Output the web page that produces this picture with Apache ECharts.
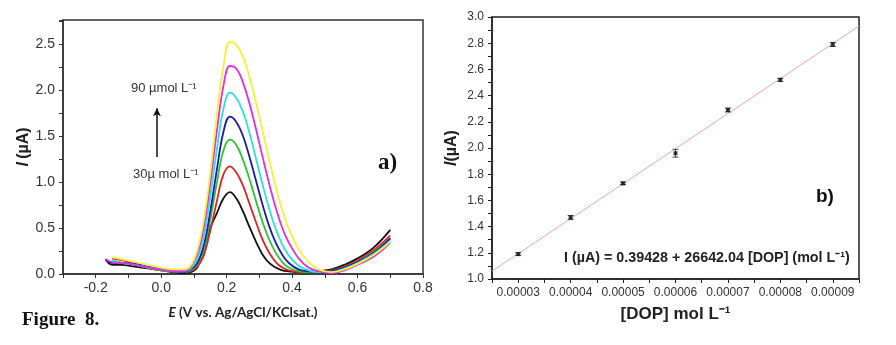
<!DOCTYPE html>
<html>
<head>
<meta charset="utf-8">
<script src="https://cdn.jsdelivr.net/npm/echarts@6/dist/echarts.min.js"></script>
<style>
html, body { margin: 0; padding: 0; background: #fff; }
#chart { width: 896px; height: 345px; }
</style>
</head>
<body>
<div id="chart"></div>
<script>
// a) DPV curves, potential in V, current in uA
const potential = [-0.17, -0.15, -0.12, -0.08, -0.04, 0.00, 0.04, 0.07, 0.09, 0.11, 0.13, 0.15, 0.17, 0.19, 0.21,
    0.23, 0.25, 0.27, 0.29, 0.31, 0.33, 0.35, 0.37, 0.39, 0.42, 0.45, 0.48, 0.52, 0.56, 0.60, 0.65, 0.70];
const curve30 = [0.16, 0.10, 0.10, 0.08, 0.06, 0.04, 0.02, 0.01, 0.02, 0.07, 0.25, 0.50, 0.66, 0.82, 0.89,
    0.82, 0.68, 0.51, 0.35, 0.21, 0.12, 0.07, 0.04, 0.03, 0.02, 0.02, 0.03, 0.05, 0.10, 0.17, 0.29, 0.48];
const curve40 = [null, 0.17, 0.15, 0.11, 0.07, 0.04, 0.03, 0.02, 0.03, 0.08, 0.20, 0.47, 0.79, 1.08, 1.17,
    1.10, 0.96, 0.76, 0.56, 0.37, 0.23, 0.13, 0.07, 0.04, 0.02, 0.02, 0.03, 0.04, 0.08, 0.15, 0.26, 0.42];
const curve50 = [null, 0.15, 0.12, 0.10, 0.07, 0.04, 0.03, 0.02, 0.04, 0.10, 0.26, 0.59, 0.99, 1.34, 1.46,
    1.40, 1.24, 1.03, 0.79, 0.56, 0.375, 0.23, 0.13, 0.07, 0.03, 0.02, 0.02, 0.03, 0.07, 0.13, 0.24, 0.38];
const curve60 = [0.16, 0.12, 0.12, 0.11, 0.08, 0.05, 0.03, 0.02, 0.05, 0.12, 0.31, 0.68, 1.13, 1.54, 1.71,
    1.65, 1.50, 1.27, 1.01, 0.75, 0.52, 0.34, 0.21, 0.12, 0.05, 0.03, 0.02, 0.03, 0.07, 0.13, 0.23, 0.39];
const curve70 = [null, 0.15, 0.12, 0.10, 0.07, 0.05, 0.03, 0.03, 0.06, 0.16, 0.40, 0.84, 1.35, 1.79, 1.97,
    1.91, 1.76, 1.53, 1.25, 0.97, 0.71, 0.49, 0.32, 0.20, 0.09, 0.04, 0.02, 0.02, 0.06, 0.12, 0.22, 0.36];
const curve80 = [0.16, 0.13, 0.12, 0.10, 0.07, 0.05, 0.03, 0.03, 0.08, 0.21, 0.50, 0.99, 1.55, 2.04, 2.26,
    2.23, 2.08, 1.85, 1.57, 1.27, 0.98, 0.72, 0.50, 0.34, 0.17, 0.07, 0.03, 0.01, 0.04, 0.10, 0.19, 0.34];
const curve90 = [null, 0.18, 0.16, 0.13, 0.10, 0.07, 0.05, 0.05, 0.09, 0.25, 0.58, 1.10, 1.72, 2.25, 2.52,
    2.49, 2.36, 2.14, 1.86, 1.55, 1.24, 0.95, 0.69, 0.49, 0.27, 0.13, 0.05, 0.02, 0.05, 0.11, 0.21, 0.35];
const curves = [curve30, curve40, curve50, curve60, curve70, curve80, curve90];
const curveNames = ['30', '40', '50', '60', '70', '80', '90'];
const curveColors = ['#111111', '#e02424', '#2ec42e', '#1c1ca8', '#2ee0e0', '#e02ee0', '#f2f23a'];

// b) calibration
const concentration = [0.00003, 0.00004, 0.00005, 0.00006, 0.00007, 0.00008, 0.00009];
const currentMean = [1.19, 1.47, 1.73, 1.96, 2.29, 2.52, 2.79];
const currentErr = [0.01, 0.015, 0.01, 0.03, 0.015, 0.012, 0.015];
const fitX = [0.000025, 0.000095];
const fitY = [1.06, 2.93];

const sans = '"Liberation Sans", Arial, sans-serif';
const chart = echarts.init(document.getElementById('chart'));

const curveSeries = curves.map((c, i) => ({
    name: curveNames[i] + ' µmol L⁻¹',
    type: 'line',
    xAxisIndex: 0,
    yAxisIndex: 0,
    data: potential.map((e, k) => [e, c[k]]),
    smooth: 0.4,
    showSymbol: false,
    lineStyle: { color: curveColors[i], width: 1.8 },
    itemStyle: { color: curveColors[i] },
    z: 2 + i
}));
// arrow between the two concentration labels
curveSeries[0].markLine = {
    silent: true,
    symbol: ['none', 'arrow'],
    symbolSize: [6, 8],
    label: { show: false },
    lineStyle: { color: '#111', width: 1.5, type: 'solid' },
    data: [[{ coord: [-0.013, 1.27] }, { coord: [-0.013, 1.80] }]]
};

const everyOther = (step) => (v) => {
    const k = v / step;
    return Math.abs(k - Math.round(k)) < 1e-6 ? v.toFixed(1) : '';
};

const option = {
    animation: false,
    backgroundColor: '#fff',
    grid: [
        { left: 63, top: 20, width: 360, height: 254, show: true, borderColor: '#333', borderWidth: 1.5 },
        { left: 492, top: 17, width: 367, height: 262, show: true, borderColor: '#222', borderWidth: 1.5 }
    ],
    xAxis: [
        {
            gridIndex: 0, type: 'value', min: -0.3, max: 0.8, interval: 0.1,
            axisLine: { onZero: false, lineStyle: { color: '#333', width: 1.5 } },
            axisTick: { length: 4, lineStyle: { color: '#333' } },
            axisLabel: { formatter: everyOther(0.2), color: '#333', fontSize: 14, fontFamily: sans, margin: 7 },
            splitLine: { show: false },
            name: '{it|E} {b|(V vs. Ag/AgCl/KClsat.)}',
            nameLocation: 'middle', nameGap: 32,
            nameTextStyle: {
                rich: {
                    it: { fontStyle: 'italic', fontWeight: 'bold', fontSize: 13.5, fontFamily: 'Lato, sans-serif', color: '#222' },
                    b: { fontWeight: 'bold', fontSize: 13.5, fontFamily: 'Lato, sans-serif', color: '#222' }
                }
            }
        },
        {
            gridIndex: 1, type: 'value', min: 0.000025, max: 0.000095, interval: 0.000005,
            axisLine: { onZero: false, lineStyle: { color: '#222', width: 1.5 } },
            axisTick: { length: 4, lineStyle: { color: '#222' } },
            axisLabel: {
                formatter: (v) => Math.round(v * 1e6) % 10 === 0 ? v.toFixed(5) : '',
                color: '#333', fontSize: 12, fontFamily: sans, margin: 8
            },
            splitLine: { show: false },
            name: '[DOP] mol L⁻¹',
            nameLocation: 'middle', nameGap: 27,
            nameTextStyle: { fontWeight: 'bold', fontSize: 17, fontFamily: sans, color: '#222' }
        }
    ],
    yAxis: [
        {
            gridIndex: 0, type: 'value', min: 0, max: 2.76, interval: 0.25,
            axisLine: { onZero: false, lineStyle: { color: '#333', width: 1.5 } },
            axisTick: { length: 4, lineStyle: { color: '#333' } },
            axisLabel: { formatter: everyOther(0.5), color: '#333', fontSize: 14, fontFamily: sans, margin: 8 },
            splitLine: { show: false },
            name: '{it|I} {b|(µA)}',
            nameLocation: 'middle', nameRotate: 90, nameGap: 31,
            nameTextStyle: {
                rich: {
                    it: { fontStyle: 'italic', fontWeight: 'bold', fontSize: 16, fontFamily: sans, color: '#222' },
                    b: { fontWeight: 'bold', fontSize: 16, fontFamily: sans, color: '#222' }
                }
            }
        },
        {
            gridIndex: 1, type: 'value', min: 1.0, max: 3.0, interval: 0.1,
            axisLine: { onZero: false, lineStyle: { color: '#222', width: 1.5 } },
            axisTick: { length: 4, lineStyle: { color: '#222' } },
            axisLabel: { formatter: everyOther(0.2), color: '#333', fontSize: 12, fontFamily: sans, margin: 8 },
            splitLine: { show: false },
            name: '{it|I}{b|(µA)}',
            nameLocation: 'middle', nameRotate: 90, nameGap: 32,
            nameTextStyle: {
                rich: {
                    it: { fontStyle: 'italic', fontWeight: 'bold', fontSize: 16, fontFamily: sans, color: '#222' },
                    b: { fontWeight: 'bold', fontSize: 16, fontFamily: sans, color: '#222' }
                }
            }
        }
    ],
    series: curveSeries.concat([
        {
            name: 'fit', type: 'line', xAxisIndex: 1, yAxisIndex: 1,
            data: fitX.map((x, i) => [x, fitY[i]]),
            showSymbol: false,
            lineStyle: { color: '#f2a6a6', width: 1 },
            z: 1
        },
        {
            name: 'error', type: 'custom', xAxisIndex: 1, yAxisIndex: 1,
            data: concentration.map((c, i) => [c, currentMean[i] - currentErr[i], currentMean[i] + currentErr[i]]),
            renderItem: (params, api) => {
                const lo = api.coord([api.value(0), api.value(1)]);
                const hi = api.coord([api.value(0), api.value(2)]);
                const w = 3;
                const st = { stroke: '#444', lineWidth: 1 };
                return {
                    type: 'group',
                    children: [
                        { type: 'line', shape: { x1: lo[0], y1: lo[1], x2: hi[0], y2: hi[1] }, style: st },
                        { type: 'line', shape: { x1: lo[0] - w, y1: lo[1], x2: lo[0] + w, y2: lo[1] }, style: st },
                        { type: 'line', shape: { x1: hi[0] - w, y1: hi[1], x2: hi[0] + w, y2: hi[1] }, style: st }
                    ]
                };
            },
            z: 3
        },
        {
            name: 'mean', type: 'scatter', xAxisIndex: 1, yAxisIndex: 1,
            data: concentration.map((c, i) => [c, currentMean[i]]),
            symbol: 'rect', symbolSize: 4,
            itemStyle: { color: '#111' },
            z: 4
        }
    ]),
    graphic: [
        { type: 'text', left: 131, top: 82, style: { text: '90 µmol L⁻¹', font: '13px ' + sans, fill: '#333' } },
        { type: 'text', left: 133, top: 168, style: { text: '30µ mol L⁻¹', font: '13px ' + sans, fill: '#333' } },
        { type: 'text', left: 378, top: 152, style: { text: 'a)', font: 'bold 23px "Liberation Serif", serif', fill: '#111' } },
        { type: 'text', left: 22, top: 311, style: { text: 'Figure  8.', font: 'bold 19px "Liberation Serif", serif', fill: '#111' } },
        { type: 'text', left: 816, top: 187, style: { text: 'b)', font: 'bold 19px ' + sans, fill: '#111' } },
        {
            type: 'text', left: 564, top: 251,
            style: { text: 'I (µA) = 0.39428 + 26642.04 [DOP] (mol L⁻¹)', font: 'bold 14.3px ' + sans, fill: '#222' }
        }
    ]
};

chart.setOption(option);
</script>
</body>
</html>
